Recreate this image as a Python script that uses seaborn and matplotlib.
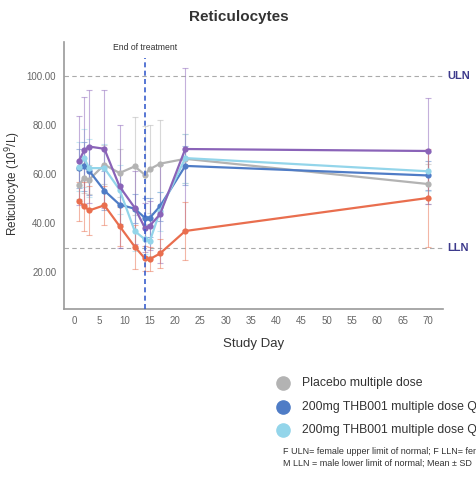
import numpy as np
import pandas as pd
import matplotlib
matplotlib.use("Agg")
import matplotlib.pyplot as plt
import seaborn as sns

# ---- data ----
days = [1, 2, 3, 6, 9, 12, 14, 15, 17, 22, 70]
groups = ["Placebo multiple dose", "200mg THB001 multiple dose QD",
          "200mg THB001 multiple dose QOD", "400mg THB001 multiple dose QD",
          "400mg THB001 multiple dose QOD"]
placebo_mean = [55.7, 58.5, 57.8, 63.9, 60.5, 63.2, 59.8, 62.1, 64.3, 66.3, 56.0]
placebo_sd = [6, 6, 6, 8, 10, 20, 20, 18, 18, 10, 8]
blue_mean = [62.5, 63.2, 61.4, 53.3, 47.6, 45.9, 42.2, 42.2, 46.9, 63.4, 59.5]
blue_sd = [8, 10, 10, 8, 8, 6, 8, 8, 6, 8, 6]
cyan_mean = [63.0, 66.6, 62.5, 62.5, 53.7, 36.8, 33.4, 32.7, 44.9, 66.6, 61.2]
cyan_sd = [10, 12, 12, 10, 10, 8, 6, 6, 8, 10, 8]
purple_mean = [65.6, 69.7, 71.3, 70.4, 55.0, 46.3, 38.1, 39.0, 43.6, 70.3, 69.5]
purple_sd = [18, 22, 23, 24, 25, 15, 10, 10, 20, 33, 21.5]
orange_mean = [49.0, 46.9, 45.2, 47.3, 38.8, 30.4, 25.6, 25.3, 27.6, 36.8, 50.3]
orange_sd = [8, 10, 10, 8, 8, 9, 5, 5, 6, 12, 20]
yticks = [20, 40, 60, 80, 100]
xticks = list(range(0, 75, 5))
uln, lln, eot_day = 100, 30, 14

colors = ["#b3b3b3", "#4f7cc6", "#93d5ea", "#8a63b8", "#e96e4e"]
means = [placebo_mean, blue_mean, cyan_mean, purple_mean, orange_mean]
sds = [placebo_sd, blue_sd, cyan_sd, purple_sd, orange_sd]

rows = []
for g, m, s in zip(groups, means, sds):
    for d, mv, sv in zip(days, m, s):
        rows.append({"day": d, "mean": mv, "sd": sv, "group": g})
df = pd.DataFrame(rows)

sns.set_theme(style="white")
plt.rcParams['font.family'] = ['Liberation Sans', 'DejaVu Sans']

fig = plt.figure(figsize=(4.77, 4.84), dpi=100)
ax = fig.add_axes([0.134, 0.362, 0.795, 0.551])

pal = dict(zip(groups, colors))
# error bars first
for g in groups:
    sub = df[df.group == g]
    ax.errorbar(sub["day"], sub["mean"], yerr=sub["sd"], fmt="none",
                ecolor=pal[g], alpha=0.5, elinewidth=0.8, capsize=2.5,
                capthick=0.8, zorder=2)
sns.lineplot(data=df, x="day", y="mean", hue="group", palette=pal,
             marker="o", markersize=4.5, markeredgewidth=0, linewidth=1.6,
             legend=False, ax=ax, zorder=3, errorbar=None)

ax.axhline(uln, color="#aaaaaa", ls=(0, (4, 3)), lw=0.8, zorder=1)
ax.axhline(lln, color="#aaaaaa", ls=(0, (4, 3)), lw=0.8, zorder=1)
ax.axvline(eot_day, ymax=0.94, color="#3a5fcd", ls=(0, (3, 2)), lw=1.2, zorder=4)
ax.text(eot_day, 111.6, "End of treatment", ha="center", va="center",
        fontsize=6.2, color="#333333")
ax.text(1.01, (uln - 5) / (114 - 5), "ULN", transform=ax.transAxes,
        ha="left", va="center", fontsize=8, fontweight="bold", color="#3d3a8c")
ax.text(1.01, (lln - 5) / (114 - 5), "LLN", transform=ax.transAxes,
        ha="left", va="center", fontsize=8, fontweight="bold", color="#3d3a8c")

ax.set_xlim(-2, 73)
ax.set_ylim(5, 114)
ax.set_xticks(xticks)
ax.set_yticks(yticks)
ax.set_yticklabels([f"{v:.2f}" for v in yticks])
ax.tick_params(axis="both", labelsize=7, colors="#666666", length=2)
ax.set_xlabel("Study Day", fontsize=9.5, color="#333333", labelpad=8)
ax.set_ylabel("Reticulocyte (10$^9$/L)", fontsize=8.5, color="#333333")
ax.yaxis.set_label_coords(-0.108, 0.47)
for sp in ["top", "right"]:
    ax.spines[sp].set_visible(False)
for sp in ["left", "bottom"]:
    ax.spines[sp].set_color("#999999")
    ax.spines[sp].set_linewidth(1.2)

fig.text(0.5, 0.964, "Reticulocytes", ha="center", va="center",
         fontsize=11, fontweight="bold", color="#333333")

# legend (cropped at right edge as in reference)
leg_y = [383, 407, 430]
for g, c, yy in zip(groups[:3], colors[:3], leg_y):
    fy = 1 - yy / 484
    fig.lines.append(plt.Line2D([283 / 477], [fy], marker="o", markersize=9.5,
                                color=c, transform=fig.transFigure, ls="none"))
    fig.text(302 / 477, fy, g, ha="left", va="center", fontsize=8.8, color="#333333")
fig.text(283 / 477, 1 - 451 / 484,
         "F ULN= female upper limit of normal; F LLN= female lower limit of normal",
         ha="left", va="center", fontsize=6.5, color="#333333")
fig.text(283 / 477, 1 - 463 / 484,
         "M LLN = male lower limit of normal; Mean \u00b1 SD",
         ha="left", va="center", fontsize=6.5, color="#333333")

fig.savefig("out.png", dpi=100)
